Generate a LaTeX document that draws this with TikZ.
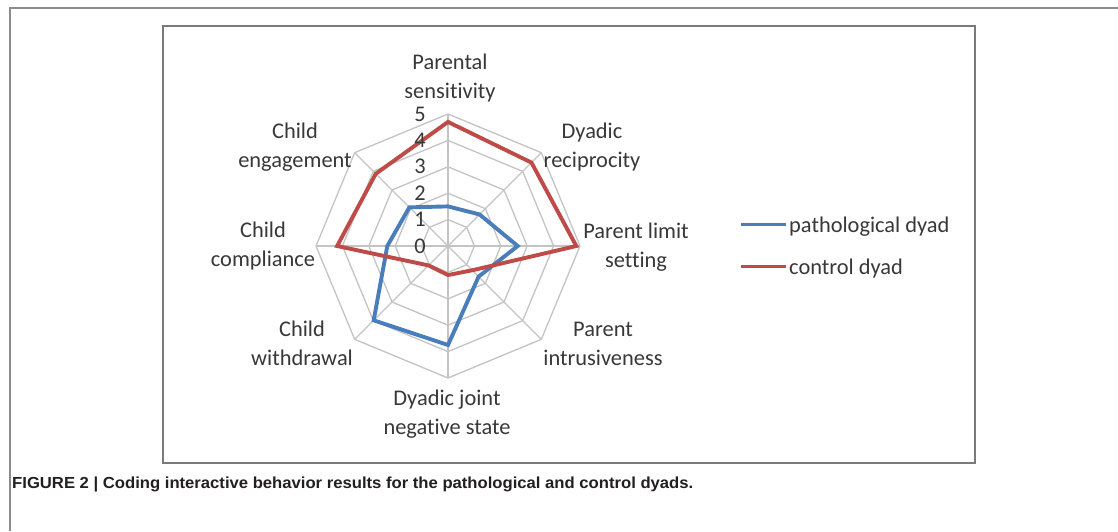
\documentclass[tikz,border=0pt]{standalone}
\usepackage{fontspec}
\setmainfont{Carlito}[Ligatures=NoCommon]
\newfontfamily\capfont{Liberation Sans}
\usepackage{graphicx}
\definecolor{gridgray}{HTML}{C4C4C4}
\definecolor{framegray}{HTML}{8C8C8C}
\definecolor{boxgray}{HTML}{7A7A7A}
\definecolor{serblue}{HTML}{4A7EBB}
\definecolor{serred}{HTML}{BE4B48}
\definecolor{txt}{HTML}{383838}
\definecolor{captxt}{HTML}{231F20}
\begin{document}
\begin{tikzpicture}[x=1pt,y=1pt,
  lbl/.style={font=\fontsize{22.4}{29}\selectfont, text=txt, align=center, inner sep=0pt},
  num/.style={font=\fontsize{22.4}{29}\selectfont, text=txt, inner sep=0pt},
  gridline/.style={draw=gridgray, line width=1.3pt},
  series/.style={line width=3.9pt, line join=miter},
  legline/.style={line width=3.9pt}]
\useasboundingbox (0,0) rectangle (1118,-531);
\fill[white] (0,0) rectangle (1118,-531);
% page frame and chart box
\draw[framegray, line width=2pt] (10,-531) -- (10,-8) -- (1118,-8);
\draw[boxgray, line width=2.5pt] (163,-26) rectangle (975,-463);
% radar chart
\begin{scope}[shift={(448,-246)}]
  \foreach \k in {1,...,5}{
    \draw[gridline] (90:{\k*26.4}) -- (45:{\k*26.4}) -- (0:{\k*26.4}) -- (-45:{\k*26.4})
      -- (-90:{\k*26.4}) -- (-135:{\k*26.4}) -- (180:{\k*26.4}) -- (135:{\k*26.4}) -- cycle;
  }
  \foreach \i in {0,...,7}{
    \draw[gridline] (0,0) -- ({90-45*\i}:132);
  }
  % pathological dyad
  \draw[series, serblue] (90:{1.5*26.4}) coordinate (b1) -- (45:{1.69*26.4}) coordinate (b2)
    -- (0:{2.64*26.4}) coordinate (b3) -- (-45:{1.64*26.4}) coordinate (b4)
    -- (-90:{3.75*26.4}) coordinate (b5) -- (-135:{3.98*26.4}) coordinate (b6)
    -- (180:{2.3*26.4}) coordinate (b7) -- (135:{2.07*26.4}) coordinate (b8) -- cycle;
  % control dyad
  \draw[series, serred] (90:{4.7*26.4}) coordinate (r1) -- (45:{4.47*26.4}) coordinate (r2)
    -- (0:{4.86*26.4}) coordinate (r3) -- (-45:{1.3*26.4}) coordinate (r4)
    -- (-90:{1.1*26.4}) coordinate (r5) -- (-135:{1.04*26.4}) coordinate (r6)
    -- (180:{4.2*26.4}) coordinate (r7) -- (135:{3.87*26.4}) coordinate (r8) -- cycle;
  \foreach \k in {0,...,5}{
    \node[num] (n\k) at (-28,{\k*26.4}) {\k};
  }
\end{scope}
% axis labels
\node[lbl] (ps) at (450,-78.5) {Parental\\sensitivity};
\node[lbl] (dr) at (592,-147.5) {Dyadic\\reciprocity};
\node[lbl] (pl) at (636,-247.5) {Parent limit\\setting};
\node[lbl] (pi) at (603,-343.5) {Parent\\intrusiveness};
\node[lbl] (dj) at (447,-414.5) {Dyadic joint\\negative state};
\node[lbl] (cw) at (302,-343.5) {Child\\withdrawal};
\node[lbl] (cc) at (263,-246.5) {Child\\compliance};
\node[lbl] (ce) at (295,-147.5) {Child\\engagement};
% legend
\coordinate (lb1) at (741,-224.5);
\coordinate (lb2) at (786,-224.5);
\coordinate (lr1) at (741,-266.5);
\coordinate (lr2) at (786,-266.5);
\draw[legline, serblue] (lb1) -- (lb2);
\draw[legline, serred] (lr1) -- (lr2);
\node[lbl, anchor=base west] (lgb) at (789,-232) {pathological dyad};
\node[lbl, anchor=base west] (lgr) at (789,-274) {control dyad};
% caption
\node[anchor=west, inner sep=0pt, text=captxt] (cap) at (12,-484)
  {\resizebox{681pt}{\height}{\capfont\bfseries\fontsize{16}{18}\selectfont FIGURE 2 | Coding interactive behavior results for the pathological and control dyads.}};
\end{tikzpicture}
\end{document}
